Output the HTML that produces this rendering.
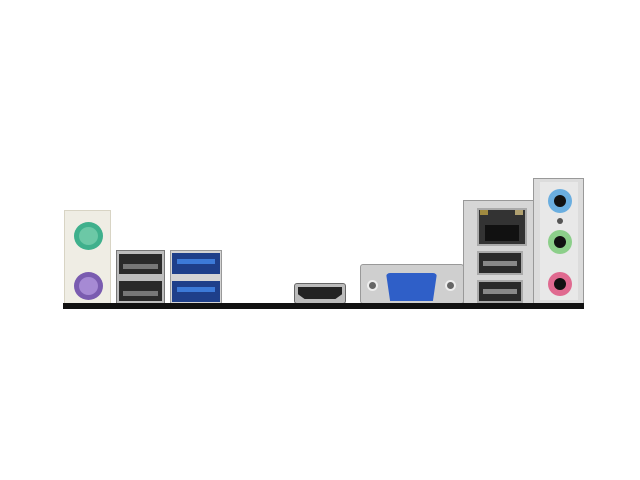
<!DOCTYPE html><html><head><style>
body{margin:0;width:640px;height:480px;background:#fff;position:relative;overflow:hidden;font-family:"Liberation Sans",sans-serif}
div{position:absolute;box-sizing:border-box}
.c{border-radius:50%}
</style></head><body>
<!-- PS2 -->
<div style="left:64px;top:210px;width:47px;height:94px;background:#efede4;border:1px solid #d8d4c4"></div>
<div class="c" style="left:74px;top:222px;width:29px;height:28px;background:#3fb08c"></div>
<div class="c" style="left:79px;top:227px;width:19px;height:18px;background:#6cc8a6"></div>
<div class="c" style="left:74px;top:272px;width:29px;height:28px;background:#7a5cb0"></div>
<div class="c" style="left:79px;top:277px;width:19px;height:18px;background:#a68ad4"></div>
<!-- USB2 -->
<div style="left:116px;top:250px;width:49px;height:54px;background:#bdbdbd;border:1px solid #777"></div>
<div style="left:119px;top:254px;width:43px;height:20px;background:#2a2a2a"></div>
<div style="left:123px;top:264px;width:35px;height:5px;background:#777"></div>
<div style="left:119px;top:281px;width:43px;height:20px;background:#2a2a2a"></div>
<div style="left:123px;top:291px;width:35px;height:5px;background:#777"></div>
<!-- USB3 -->
<div style="left:170px;top:250px;width:52px;height:54px;background:#d4d4d4;border:1px solid #999"></div>
<div style="left:172px;top:253px;width:48px;height:21px;background:#1e3f8a"></div>
<div style="left:177px;top:259px;width:38px;height:5px;background:#3c7ad8"></div>
<div style="left:172px;top:281px;width:48px;height:21px;background:#1e3f8a"></div>
<div style="left:177px;top:287px;width:38px;height:5px;background:#3c7ad8"></div>
<!-- HDMI -->
<div style="left:294px;top:283px;width:52px;height:21px;background:#bbb;border:1px solid #666;border-radius:3px"></div>
<div style="left:298px;top:287px;width:44px;height:12px;background:#222;clip-path:polygon(0 0,100% 0,100% 60%,85% 100%,15% 100%,0 60%)"></div>
<!-- VGA -->
<div style="left:360px;top:264px;width:104px;height:40px;background:#cfcfcf;border:1px solid #999;border-radius:3px"></div>
<div class="c" style="left:367px;top:280px;width:11px;height:11px;background:#666;border:2px solid #eee"></div>
<div class="c" style="left:445px;top:280px;width:11px;height:11px;background:#666;border:2px solid #eee"></div>
<div style="left:386px;top:273px;width:51px;height:28px;background:#2f5fc8;clip-path:polygon(0 0,100% 0,92% 100%,8% 100%);border-radius:4px"></div>
<!-- LAN module -->
<div style="left:463px;top:200px;width:71px;height:104px;background:#d6d6d6;border:1px solid #999"></div>
<div style="left:477px;top:208px;width:50px;height:38px;background:#333;border:2px solid #aaa"></div>
<div style="left:480px;top:210px;width:8px;height:5px;background:#a08a40"></div>
<div style="left:515px;top:210px;width:8px;height:5px;background:#b0a070"></div>
<div style="left:485px;top:225px;width:34px;height:16px;background:#111"></div>
<div style="left:477px;top:251px;width:46px;height:24px;background:#2a2a2a;border:2px solid #aaa"></div>
<div style="left:483px;top:261px;width:34px;height:5px;background:#888"></div>
<div style="left:477px;top:280px;width:46px;height:23px;background:#2a2a2a;border:2px solid #aaa"></div>
<div style="left:483px;top:289px;width:34px;height:5px;background:#888"></div>
<!-- Audio -->
<div style="left:533px;top:178px;width:51px;height:126px;background:#dcdcdc;border:1px solid #999"></div>
<div style="left:540px;top:182px;width:38px;height:118px;background:#e8e8e8"></div>
<div class="c" style="left:548px;top:189px;width:24px;height:24px;background:#6aaee0"></div>
<div class="c" style="left:554px;top:195px;width:12px;height:12px;background:#111"></div>
<div class="c" style="left:557px;top:218px;width:6px;height:6px;background:#555"></div>
<div class="c" style="left:548px;top:230px;width:24px;height:24px;background:#8ccf8a"></div>
<div class="c" style="left:554px;top:236px;width:12px;height:12px;background:#111"></div>
<div class="c" style="left:548px;top:272px;width:24px;height:24px;background:#e06a90"></div>
<div class="c" style="left:554px;top:278px;width:12px;height:12px;background:#111"></div>
<!-- base bar -->
<div style="left:63px;top:303px;width:521px;height:6px;background:#111"></div>
</body></html>
